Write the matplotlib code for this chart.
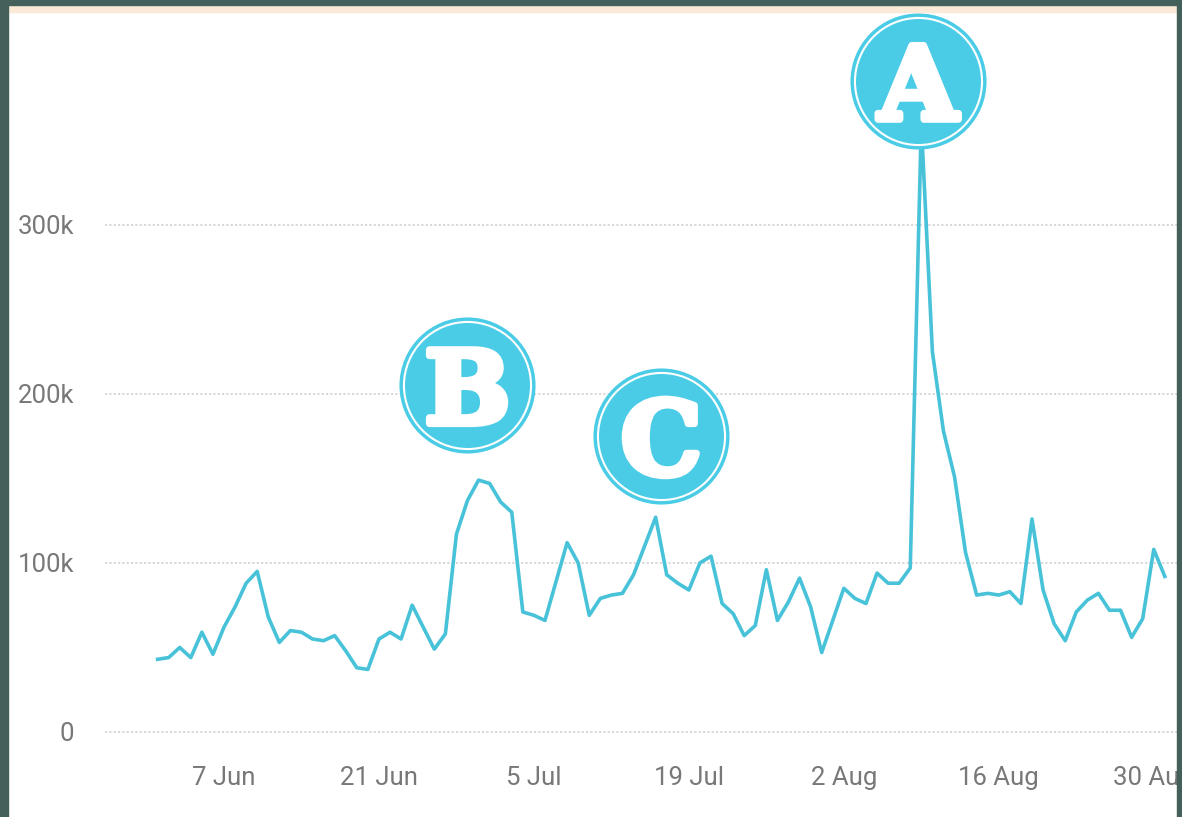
import matplotlib.pyplot as plt
import matplotlib.patheffects as pe
import pandas as pd
from matplotlib.patches import Rectangle

# daily values (thousands), 1 Jun - 31 Aug
values_k = [
    43, 44, 50, 44, 59, 46, 62, 74, 88, 95,
    68, 53, 60, 59, 55, 54, 57, 48, 38, 37,
    55, 59, 55, 75, 62, 49, 58, 117, 137, 149,
    147, 136, 130, 71, 69, 66, 89, 112, 100, 69,
    79, 81, 82, 93, 110, 127, 93, 88, 84, 100,
    104, 76, 70, 57, 63, 96, 66, 77, 91, 74,
    47, 66, 85, 79, 76, 94, 88, 88, 97, 360,
    225, 178, 151, 106, 81, 82, 81, 83, 76, 126,
    84, 64, 54, 71, 78, 82, 72, 72, 56, 67,
    108, 92,
]
dates = pd.date_range("2018-06-01", periods=len(values_k), freq="D")
values = [v * 1000 for v in values_k]

tick_dates = pd.to_datetime(["2018-06-07", "2018-06-21", "2018-07-05", "2018-07-19",
                             "2018-08-02", "2018-08-16", "2018-08-30"])
tick_labels = ["7 Jun", "21 Jun", "5 Jul", "19 Jul", "2 Aug", "16 Aug", "30 Aug"]
y_ticks = [0, 100000, 200000, 300000]
y_labels = ["0", "100k", "200k", "300k"]

# badge letters placed at (date, value)
badge_letters = ["A", "B", "C"]
badge_dates = pd.to_datetime(["2018-08-08 17:00", "2018-06-29 00:00", "2018-07-16 12:00"])
badge_values = [385000, 205000, 175000]

W, H = 1182, 817
fig = plt.figure(figsize=(W / 100, H / 100), dpi=100)
fig.patch.set_facecolor("white")

# axes in pixel terms: x 105..1177, y 12..745 (from top)
ax = fig.add_axes([105 / W, (H - 745) / H, (1177 - 105) / W, (745 - 12) / H])
ax.set_facecolor("white")

line_color = "#47c2d8"
badge_color = "#4bcce6"

ax.plot(dates, values, color=line_color, lw=2.6, zorder=3, solid_joinstyle="round")

start = dates[0]
ax.set_xlim(start - pd.Timedelta(days=4.75), start + pd.Timedelta(days=92.1))
ax.set_ylim(-7700, 425900)

ax.set_yticks(y_ticks)
ax.set_yticklabels(y_labels)
ax.set_xticks(tick_dates)
ax.set_xticklabels(tick_labels)
for lab in ax.get_xticklabels() + ax.get_yticklabels():
    lab.set_fontfamily("Roboto")
    lab.set_fontsize(18.5)
    lab.set_color("#787878")
ax.tick_params(axis="both", length=0)
ax.tick_params(axis="y", pad=22)
ax.tick_params(axis="x", pad=15)

ax.grid(axis="y", color="#d4d4d4", linestyle=(0, (1.2, 1.2)), linewidth=1.3)
ax.set_axisbelow(True)
for s in ax.spines.values():
    s.set_visible(False)

for letter, bd, bv in zip(badge_letters, badge_dates, badge_values):
    ax.plot([bd], [bv], marker="o", ms=98, mfc=badge_color, mec="none",
            zorder=5, clip_on=False)
    ax.plot([bd], [bv], marker="o", ms=91.5, mfc="none", mec="white", mew=1.5,
            zorder=6, clip_on=False)
    ax.annotate(letter, xy=(bd, bv), xytext=(0, -27.5), textcoords="offset points",
                ha="center", va="baseline", fontsize=73, fontweight="bold",
                family="DejaVu Serif", color="white", zorder=7,
                path_effects=[pe.withStroke(linewidth=5, foreground="white")],
                annotation_clip=False)

# frame
frame = "#43605a"
fig.add_artist(Rectangle((0, 0), 8 / W, 1, transform=fig.transFigure,
                         color=frame, zorder=20))
fig.add_artist(Rectangle((0, 1 - 5 / H), 1, 5 / H, transform=fig.transFigure,
                         color=frame, zorder=20))
fig.add_artist(Rectangle((1177 / W, 0), 5 / W, 1, transform=fig.transFigure,
                         color=frame, zorder=20))
fig.add_artist(Rectangle((8 / W, 1 - 11.5 / H), 1169 / W, 6.5 / H,
                         transform=fig.transFigure, color="#fbead8", zorder=19))

fig.savefig("out.png", dpi=100)
